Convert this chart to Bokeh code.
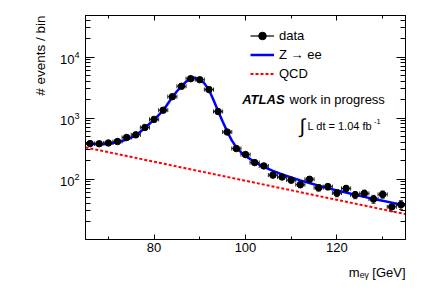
import math
from bokeh.plotting import figure
from bokeh.models import (ColumnDataSource, Whisker, TeeHead, Legend, LegendItem, Label, Title,
                          LinearAxis, LogAxis, FixedTicker, CustomJSTickFormatter, Range1d)
from bokeh.embed import file_html
from bokeh.resources import INLINE

FONT = "Liberation Sans"

# ---------------- data ----------------
data_x = [66, 68, 70, 72, 74, 76, 78, 80, 82, 84, 86, 88, 90, 92, 94, 96, 98, 100, 102, 104,
          106, 108, 110, 112, 114, 116, 118, 120, 122, 124, 126, 128, 130, 132, 134]
data_y = [381, 379, 390, 412, 480, 530, 700, 950, 1345, 2240, 3320, 4420, 4250, 2930, 1280, 590, 316, 252, 186, 164,
          116, 108, 96, 81, 99, 72, 75, 59, 70, 55, 58, 47, 56, 35, 38]
data_yerr = [20, 19, 20, 20, 22, 23, 26, 31, 37, 47, 58, 66, 65, 54, 36, 24, 18, 16, 14, 13,
             11, 10, 10, 9, 10, 8.5, 8.7, 7.7, 8.4, 7.4, 7.6, 6.9, 7.5, 5.9, 6.2]
bin_half_width = 1.0

z_x = [65, 66, 67, 68, 69, 70, 71, 72, 73, 74, 75, 76, 77, 78, 79, 80, 81, 82, 83, 84, 85, 86, 87, 88,
       88.5, 89, 90, 91, 92, 93, 94, 95, 96, 97, 98, 99, 100, 102, 104, 106, 108, 110, 112, 114, 116,
       118, 120, 122, 124, 126, 128, 130, 132, 134, 135]
z_y = [382, 378, 375, 374, 376, 381, 389, 402, 420, 445, 478, 520, 597, 690, 805, 940, 1118, 1330, 1710, 2200,
       2750, 3300, 3950, 4450, 4560, 4560, 4300, 3700, 2900, 1980, 1300, 880, 600, 430, 330, 275, 240, 190,
       158, 136, 119, 106, 95, 86, 78, 71, 65, 60, 55, 51, 47, 44, 41, 38, 37]

qcd_x = [65, 135]
qcd_y = [330, 26.6]

x_major_ticks = [80, 100, 120]
x_minor_ticks = [70, 90, 110, 130]
y_major_ticks = [100, 1000, 10000]
y_minor_ticks = [20, 30, 40, 50, 60, 70, 80, 90, 200, 300, 400, 500, 600, 700, 800, 900,
                 2000, 3000, 4000, 5000, 6000, 7000, 8000, 9000, 20000, 30000, 40000]

x_title = "m\u2091\u1d67 [GeV]"
y_title = "# events / bin"

x_min, x_max = 65, 135
y_min, y_max = 10.2, 48000

# ---------------- figure ----------------
p = figure(width=420, height=288, x_range=Range1d(x_min, x_max), y_range=Range1d(y_min, y_max),
           y_axis_type="log", output_backend="svg", toolbar_location=None,
           min_border_left=85, min_border_right=15, min_border_top=15, min_border_bottom=45)
p.grid.visible = False
p.outline_line_color = "black"
p.outline_line_width = 1

def style_axis(ax, tin, tmin, labels=True):
    ax.major_tick_in = tin
    ax.major_tick_out = 0
    ax.minor_tick_in = tmin
    ax.minor_tick_out = 0
    ax.axis_line_color = "black"
    ax.major_tick_line_color = "black"
    ax.minor_tick_line_color = "black"
    ax.major_label_text_font = FONT
    ax.major_label_text_font_size = "13px"
    ax.major_label_text_color = "black"
    if not labels:
        ax.formatter = CustomJSTickFormatter(code="return ''")
        ax.major_label_standoff = 0

xa = p.xaxis[0]
xa.ticker = FixedTicker(ticks=x_major_ticks, minor_ticks=x_minor_ticks)
style_axis(xa, 5, 3)
xa.major_label_standoff = 3

ya = p.yaxis[0]
ya.ticker = FixedTicker(ticks=y_major_ticks, minor_ticks=y_minor_ticks)
style_axis(ya, 9, 5)
ya.major_label_standoff = 6

top = LinearAxis(ticker=FixedTicker(ticks=x_major_ticks, minor_ticks=x_minor_ticks))
style_axis(top, 5, 3, labels=False)
p.add_layout(top, "above")
right = LogAxis(ticker=FixedTicker(ticks=y_major_ticks, minor_ticks=y_minor_ticks))
style_axis(right, 9, 5, labels=False)
p.add_layout(right, "right")

# axis titles (ROOT style: aligned to the far end of each axis)
p.add_layout(Title(text=x_title, align="right", text_font=FONT, text_font_size="13px",
                   text_font_style="normal", text_color="black", standoff=17), "below")
p.add_layout(Title(text=y_title, align="right", text_font=FONT, text_font_size="13.5px",
                   text_font_style="normal", text_color="black", standoff=18), "left")

# ---------------- glyphs ----------------
src = ColumnDataSource(dict(
    x=data_x, y=data_y,
    xl=[v - bin_half_width for v in data_x], xu=[v + bin_half_width for v in data_x],
    yl=[v - e for v, e in zip(data_y, data_yerr)], yu=[v + e for v, e in zip(data_y, data_yerr)],
))

qcd_r = p.line(qcd_x, qcd_y, line_color="#ff0000", line_width=2, line_dash="3 2")
z_r = p.line(z_x, z_y, line_color="#0000ff", line_width=2.5)

p.add_layout(Whisker(source=src, base="y", lower="xl", upper="xu", dimension="width",
                     line_color="#222222", line_width=1,
                     lower_head=TeeHead(size=4, line_color="#222222"),
                     upper_head=TeeHead(size=4, line_color="#222222")))
p.add_layout(Whisker(source=src, base="x", lower="yl", upper="yu", dimension="height",
                     line_color="#222222", line_width=1,
                     lower_head=TeeHead(size=4, line_color="#222222"),
                     upper_head=TeeHead(size=4, line_color="#222222")))
# line renderer with no visible points, only used for the "data" legend glyph (—●—)
data_line = p.line(x=[float("nan")], y=[float("nan")], line_color="black", line_width=1.2)
pts = p.scatter("x", "y", source=src, size=6.5, color="black")

legend = Legend(items=[LegendItem(label="data", renderers=[data_line, pts]),
                       LegendItem(label="Z \u2192 ee", renderers=[z_r]),
                       LegendItem(label="QCD", renderers=[qcd_r])],
                location=(165, 156), orientation="vertical", padding=0, margin=0, spacing=0,
                glyph_width=24, glyph_height=19, label_height=19, label_standoff=5,
                background_fill_alpha=0, border_line_alpha=0,
                label_text_font=FONT, label_text_font_size="13px", label_text_color="black")
p.add_layout(legend)

# ---------------- text annotations (page pixel -> data helpers) ----------------
FR_L, FR_R, FR_T, FR_B = 85, 405, 15, 243

def dx(px):
    return x_min + (px - FR_L) * (x_max - x_min) / (FR_R - FR_L)

def dy(py):
    lo, hi = math.log10(y_min), math.log10(y_max)
    return 10 ** (hi - (py - FR_T) * (hi - lo) / (FR_B - FR_T))

def lab(px, py, text, size, align="left", style="normal", angle=0.0):
    p.add_layout(Label(x=dx(px), y=dy(py), text=text, text_font=FONT, text_font_size=size,
                       text_font_style=style, text_align=align, text_baseline="middle",
                       text_color="black", angle=angle))

lab(241.7, 101, "ATLAS", "13px", style="bold italic")
lab(289, 101, "work in progress", "13px")
lab(299, 127, "\u222b", "20px")
lab(307, 127.3, "L dt = 1.04 fb", "11px")
lab(373.5, 122.5, "-1", "7.5px")

open("out.html", "w").write(file_html(p, INLINE))
